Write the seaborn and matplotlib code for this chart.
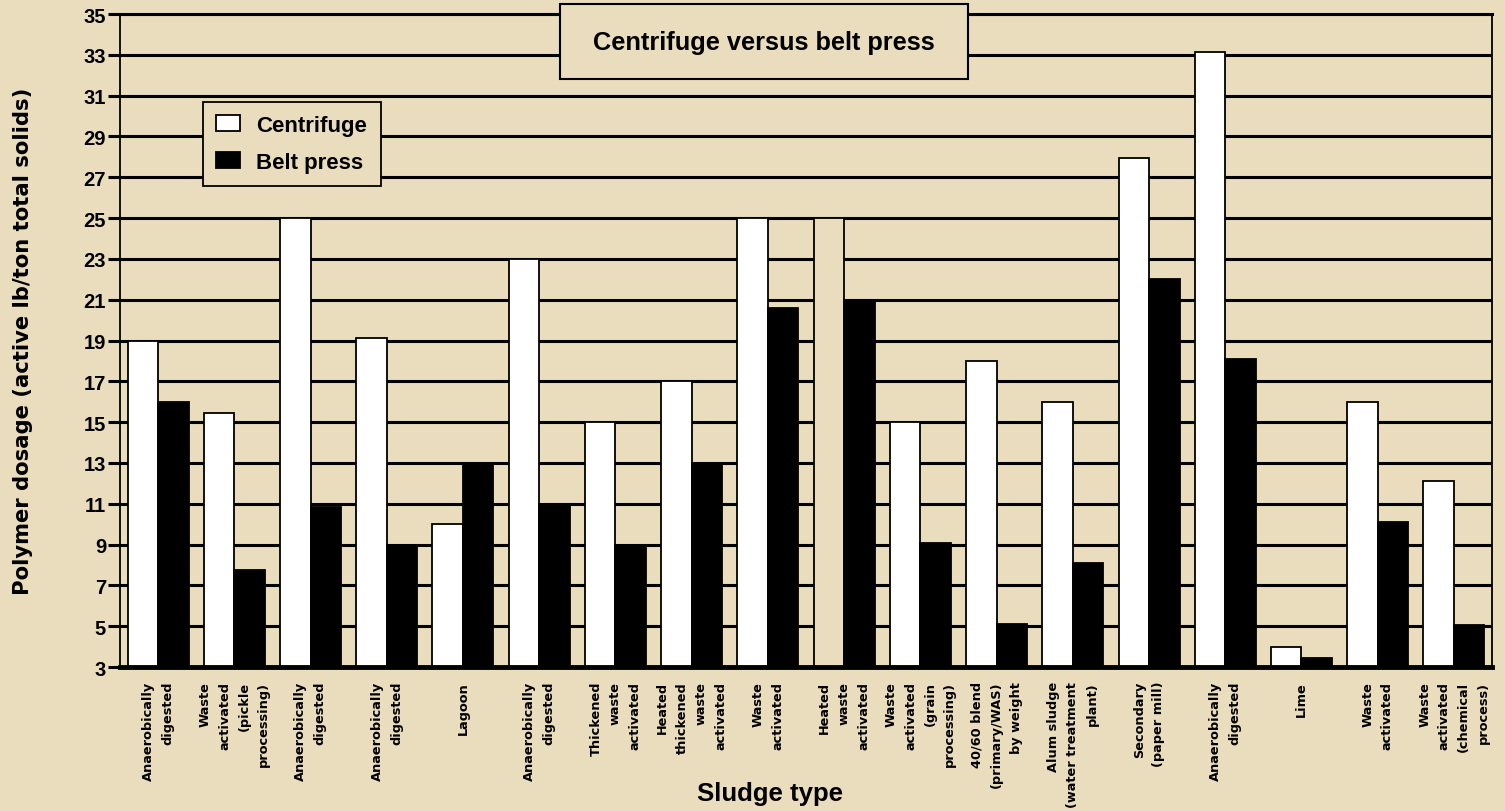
import matplotlib
matplotlib.use("Agg")
import matplotlib.pyplot as plt
from matplotlib.patches import Rectangle
import numpy as np
import pandas as pd
import seaborn as sns

# Sludge types (several names repeat, so bars are keyed by position)
sludge_types = [
    "Anaerobically\ndigested",
    "Waste\nactivated\n(pickle\nprocessing)",
    "Anaerobically\ndigested",
    "Anaerobically\ndigested",
    "Lagoon",
    "Anaerobically\ndigested",
    "Thickened\nwaste\nactivated",
    "Heated\nthickened\nwaste\nactivated",
    "Waste\nactivated",
    "Heated\nwaste\nactivated",
    "Waste\nactivated\n(grain\nprocessing)",
    "40/60 blend\n(primary/WAS)\nby weight",
    "Alum sludge\n(water treatment\nplant)",
    "Secondary\n(paper mill)",
    "Anaerobically\ndigested",
    "Lime",
    "Waste\nactivated",
    "Waste\nactivated\n(chemical\nprocess)",
]

# Polymer dosage, active lb/ton total solids
centrifuge = [19.0, 15.45, 25.0, 19.1, 10.0, 23.0, 15.0, 17.0, 25.0, 25.0,
              15.0, 18.0, 16.0, 27.95, 33.15, 4.0, 16.0, 12.1]
belt_press = [16.0, 7.75, 10.85, 9.0, 13.0, 11.0, 9.0, 13.0, 20.6, 21.0,
              9.1, 5.1, 8.1, 22.0, 18.1, 3.45, 10.1, 5.05]

series_names = ["Centrifuge", "Belt press"]
y_ticks = list(range(3, 36, 2))

BG = "#E9DDBE"
SANS = ["Liberation Sans", "DejaVu Sans"]
WIDE = ["DejaVu Sans"]

sns.set_theme(style="ticks")
plt.rcParams["font.family"] = SANS
plt.rcParams["font.weight"] = "bold"
plt.rcParams["text.color"] = "black"

n = len(sludge_types)
df = pd.DataFrame({
    "pos": list(range(n)) * 2,
    "machine": [series_names[0]] * n + [series_names[1]] * n,
    "dosage": centrifuge + belt_press,
})

fig = plt.figure(figsize=(15.05, 8.12), dpi=100, facecolor=BG)
ax = fig.add_axes([0.0797, 0.1773, 0.9117, 0.8042])
ax.set_facecolor(BG)

sns.barplot(
    data=df, x="pos", y="dosage", hue="machine", hue_order=series_names,
    palette={series_names[0]: "white", series_names[1]: "black"},
    order=list(range(n)), width=0.8, saturation=1, errorbar=None,
    edgecolor="black", linewidth=1.3, ax=ax,
)

# the heated waste-activated centrifuge bar is outlined only
ax.containers[0][9].set_facecolor(BG)

ax.set_ylim(3, 35)
ax.set_xlim(-0.5, n - 0.5)
ax.set_yticks(y_ticks)
ax.set_yticklabels([str(v) for v in y_ticks], fontsize=14.5, fontweight="bold")
ax.set_xticks(range(n))
ax.set_xticklabels(sludge_types, rotation=90, fontsize=9.3, fontweight="bold",
                   family=WIDE, linespacing=1.65, multialignment="right",
                   va="top", ha="center")

ax.set_axisbelow(True)
ax.yaxis.grid(True, color="black", linewidth=2.2)
ax.xaxis.grid(False)
ax.tick_params(axis="y", length=9, width=2.2, color="black", pad=1, labelcolor="black")
ax.tick_params(axis="x", length=0, pad=10, labelcolor="black")

for side, lw in [("left", 1.3), ("right", 1.3), ("top", 2.2), ("bottom", 3.5)]:
    ax.spines[side].set_visible(True)
    ax.spines[side].set_color("black")
    ax.spines[side].set_linewidth(lw)

ax.set_xlabel("Sludge type", fontsize=18.5, fontweight="bold", color="black")
ax.set_ylabel("Polymer dosage (active lb/ton total solids)", fontsize=15.2,
              fontweight="bold", family=WIDE, color="black")
ax.yaxis.set_label_coords(-0.0635, 0.5)
ax.xaxis.set_label_coords(0.474, -0.175)

handles, labels = ax.get_legend_handles_labels()
leg = ax.legend(handles, labels, loc="upper left", bbox_to_anchor=(0.0605, 0.866),
                frameon=True, fancybox=False, edgecolor="black", facecolor=BG,
                framealpha=1, handlelength=1.05, handleheight=0.7,
                handletextpad=0.75, labelspacing=0.72, borderpad=0.6,
                borderaxespad=0.0, labelcolor="black",
                prop={"weight": "bold", "size": 16, "family": SANS})
leg.get_frame().set_linewidth(1.3)

# title box straddling the top of the plot area
box = Rectangle((560 / 1505, 1 - 80 / 812), 408 / 1505, 75 / 812,
                transform=fig.transFigure, facecolor=BG, edgecolor="black",
                linewidth=1.5, zorder=10, clip_on=False)
ax.add_patch(box)
fig.text(764 / 1505, 1 - 43 / 812, "Centrifuge versus belt press", ha="center",
         va="center", fontsize=18.3, fontweight="bold", color="black", zorder=11)

fig.savefig("out.png", dpi=100, facecolor=BG)
